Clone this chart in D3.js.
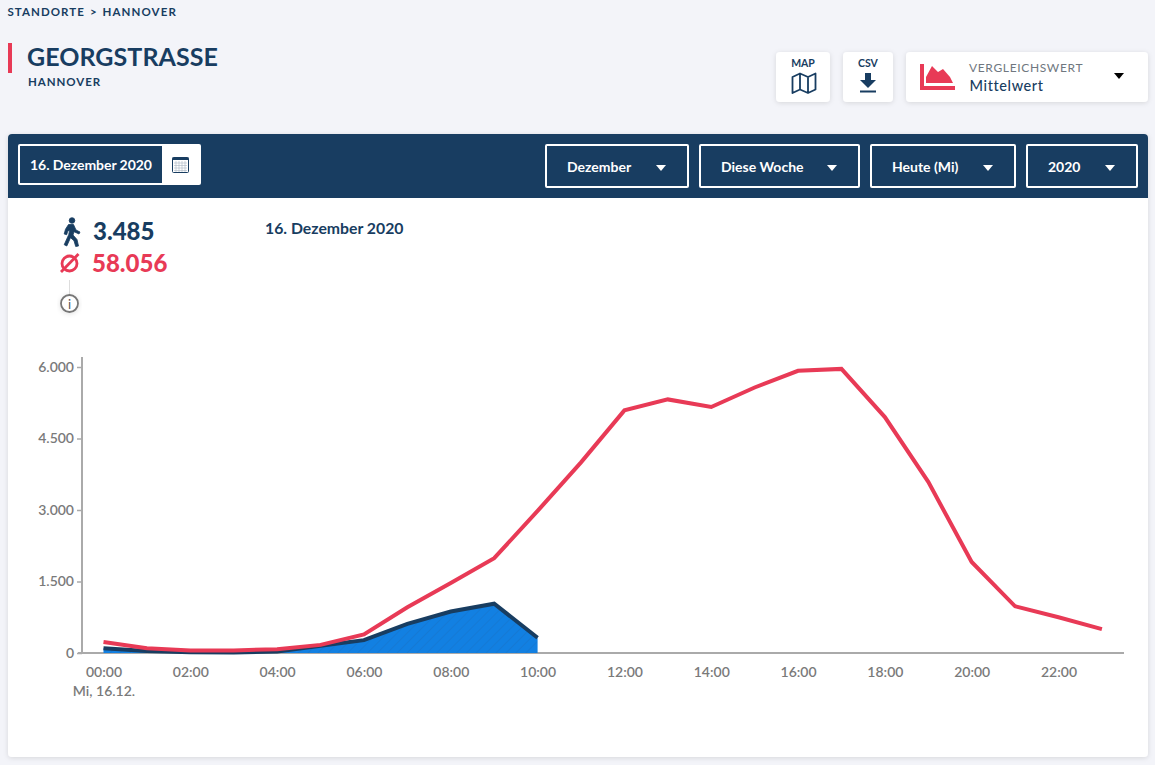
<!DOCTYPE html>
<html>
<head>
<meta charset="utf-8">
<script src="https://cdn.jsdelivr.net/npm/d3@7"></script>
<style>
  html, body { margin: 0; padding: 0; background: #f3f4f9; overflow: hidden; }
  svg { display: block; font-family: Lato, sans-serif; }
  .axis text { font-family: Lato, sans-serif; font-size: 14px; font-weight: 600; fill: #7a7a7a; }
</style>
</head>
<body>
<div id="chart"></div>
<script>
const hours = d3.range(0, 24);
const mittelwert = [230, 100, 50, 55, 80, 170, 390, 960, 1470, 1990, 2980, 4000,
  5090, 5320, 5160, 5570, 5920, 5960, 4950, 3590, 1910, 980, 750, 500];
const heute = [100, 40, 15, 10, 30, 150, 270, 610, 870, 1035, 320];
const yTicks = [0, 1500, 3000, 4500, 6000];
const xTickHours = [0, 2, 4, 6, 8, 10, 12, 14, 16, 18, 20, 22];
const dropdowns = ["Dezember", "Diese Woche", "Heute (Mi)", "2020"];

const navy = "#183d61";
const red = "#e83a56";

const svg = d3.select("#chart").append("svg")
  .attr("width", 1155)
  .attr("height", 765);

const defs = svg.append("defs");
const shadow = defs.append("filter").attr("id", "shadow")
  .attr("x", "-20%").attr("y", "-20%").attr("width", "140%").attr("height", "150%");
shadow.append("feDropShadow")
  .attr("dx", 0).attr("dy", 1).attr("stdDeviation", 2.5)
  .attr("flood-color", "#000").attr("flood-opacity", 0.12);

// hatch inside the blue area
const hatch = defs.append("pattern").attr("id", "hatch")
  .attr("width", 7).attr("height", 7)
  .attr("patternUnits", "userSpaceOnUse")
  .attr("patternTransform", "rotate(45)");
hatch.append("rect").attr("width", 7).attr("height", 7).attr("fill", "#1280e2");
hatch.append("line").attr("x1", 0).attr("y1", 0).attr("x2", 0).attr("y2", 7)
  .attr("stroke", "#1a72c4").attr("stroke-width", 1);

function label(x, y, str, size, weight, fill, anchor) {
  return svg.append("text")
    .attr("x", x).attr("y", y)
    .attr("font-size", size).attr("font-weight", weight)
    .attr("fill", fill).attr("text-anchor", anchor || "start")
    .text(str);
}

function triangle(cx, cy, w, h, fill) {
  svg.append("path")
    .attr("d", `M${cx - w / 2},${cy - h / 2}L${cx + w / 2},${cy - h / 2}L${cx},${cy + h / 2}Z`)
    .attr("fill", fill);
}

function whiteBox(x, y, w, h) {
  svg.append("rect")
    .attr("x", x).attr("y", y).attr("width", w).attr("height", h)
    .attr("rx", 4).attr("fill", "#fff").attr("filter", "url(#shadow)");
}

// page header
label(7.500, 16, "STANDORTE", 11.5, 700, navy).attr("letter-spacing", 1.05);
label(90, 16, ">", 11.5, 700, navy);
label(102.500, 16, "HANNOVER", 11.5, 700, navy).attr("letter-spacing", 1.1);
svg.append("rect").attr("x", 8).attr("y", 43).attr("width", 4).attr("height", 30).attr("fill", red);
label(27, 66, "GEORGSTRASSE", 25, 700, navy).attr("letter-spacing", 0.05);
label(28, 86, "HANNOVER", 11.5, 700, navy).attr("letter-spacing", 0.95);

// top right buttons
whiteBox(776, 52, 54, 50);
label(803, 67, "MAP", 10.5, 700, navy, "middle");
svg.append("path")
  .attr("d", "M792.5,77l7.5,-3.500l8,3.500l7.500,-3.500v16l-7.500,3.500l-8,-3.500l-7.500,3.500z M800,73.500v16 M808,77v16")
  .attr("fill", "none").attr("stroke", navy).attr("stroke-width", 1.8).attr("stroke-linejoin", "round");

whiteBox(843, 52, 50, 50);
label(868, 67, "CSV", 10.5, 700, navy, "middle");
svg.append("path")
  .attr("d", "M865,73h6v7h5l-8,8l-8,-8h5z")
  .attr("fill", navy);
svg.append("rect").attr("x", 860).attr("y", 90.500).attr("width", 16).attr("height", 2).attr("fill", navy);

whiteBox(906, 52, 242, 50);
svg.append("path")
  .attr("d", "M920,64h4v22h31v4h-35z")
  .attr("fill", red);
svg.append("path")
  .attr("d", "M926,83v-6l6,-11l6,6l5,-3l7,8l3,6z")
  .attr("fill", red);
label(969, 72, "VERGLEICHSWERT", 12, 400, "#6f7780").attr("letter-spacing", 0.65);
label(969.500, 91, "Mittelwert", 14.5, 500, navy).attr("letter-spacing", 0.6);
triangle(1119, 76, 10, 6, "#000");

// card
svg.append("rect")
  .attr("x", 8).attr("y", 134).attr("width", 1140).attr("height", 623)
  .attr("rx", 4).attr("fill", "#fff").attr("filter", "url(#shadow)");
svg.append("path")
  .attr("d", "M8,198V138a4,4 0 0 1 4,-4H1144a4,4 0 0 1 4,4V198Z")
  .attr("fill", navy);

// date picker
svg.append("rect").attr("x", 18).attr("y", 144).attr("width", 183).attr("height", 41)
  .attr("rx", 2).attr("fill", "#fff");
svg.append("rect").attr("x", 20).attr("y", 146).attr("width", 142).attr("height", 37).attr("fill", navy);
label(30, 170, "16. Dezember 2020", 14, 700, "#fff").attr("letter-spacing", -0.05);

// calendar icon
svg.append("rect").attr("x", 172.500).attr("y", 157.500).attr("width", 16).attr("height", 15)
  .attr("rx", 1).attr("fill", "#fff").attr("stroke", navy).attr("stroke-width", 1);
svg.append("rect").attr("x", 172.500).attr("y", 157.500).attr("width", 16).attr("height", 2.500).attr("fill", navy);
svg.append("path")
  .attr("d", "M174,163h13M174,165.500h13M174,168h13M174,170.500h13M176,161v11M179,161v11M182,161v11M185,161v11")
  .attr("stroke", "#a9b6c3").attr("stroke-width", 0.6).attr("fill", "none");

// dropdowns
const dropX = [[545, 689], [699, 860], [870, 1016], [1026, 1138]];
dropdowns.forEach((name, i) => {
  const [x0, x1] = dropX[i];
  svg.append("rect").attr("x", x0 + 1).attr("y", 145).attr("width", x1 - x0 - 2).attr("height", 42)
    .attr("rx", 1).attr("fill", "none").attr("stroke", "#fff").attr("stroke-width", 2);
  label(x0 + 22, 172, name, 14, 700, "#fff");
  triangle(x1 - 28, 168, 10, 6, "#fff");
});

// summary
const walker = svg.append("g").attr("transform", "translate(59.500,216)").attr("fill", navy)
  .attr("stroke", navy).attr("stroke-width", 0.8).attr("stroke-linejoin", "round");
walker.append("circle").attr("cx", 12.500).attr("cy", 4.500).attr("r", 2.800);
walker.append("path")
  .attr("d", "M9,8.500l5,0l2.500,5.500l4,2l-1,2l-5,-2.300l-1,3.300l4,4.500l1.500,6.500l-2.800,0.500l-1.700,-5.800l-3.500,-3l-3.700,8.300l-2.600,-1.300l4.500,-10l1,-4.500l-2,1l-1,3.500l-2.500,-0.700l1.300,-4.800z");
label(93, 240, "3.485", 24, 900, navy);

svg.append("circle").attr("cx", 69.500).attr("cy", 263.500).attr("r", 7.500)
  .attr("fill", "none").attr("stroke", red).attr("stroke-width", 2.800);
svg.append("line").attr("x1", 61).attr("y1", 272).attr("x2", 78.500).attr("y2", 254)
  .attr("stroke", red).attr("stroke-width", 2.800);
label(92, 272, "58.056", 24, 900, red);
label(265, 234, "16. Dezember 2020", 15.8, 700, navy);

// info icon
svg.append("line").attr("x1", 69.500).attr("y1", 280).attr("x2", 69.500).attr("y2", 295)
  .attr("stroke", "#ddd").attr("stroke-width", 1);
svg.append("circle").attr("cx", 69.500).attr("cy", 303.500).attr("r", 8.500)
  .attr("fill", "#fff").attr("stroke", "#777").attr("stroke-width", 1.800)
  .attr("filter", "url(#shadow)");
label(69.500, 308.500, "i", 13, 400, "#555", "middle");

// chart
const x = d3.scaleLinear().domain([0, 22]).range([103.500, 1058.500]);
const y = d3.scaleLinear().domain([0, 6000]).range([653, 367]);
const fmt = (d) => d3.format(",")(d).replace(",", ".");

const yAxis = svg.append("g").attr("class", "axis")
  .attr("transform", "translate(82,0)")
  .call(d3.axisLeft(y).tickValues(yTicks).tickFormat(fmt).tickSize(5).tickPadding(3));
yAxis.select(".domain").remove();
yAxis.selectAll("line").attr("stroke", "#aaa").attr("stroke-width", 1.500);
svg.append("line").attr("x1", 82).attr("y1", 357).attr("x2", 82).attr("y2", 654)
  .attr("stroke", "#aaa").attr("stroke-width", 2);

const xAxis = svg.append("g").attr("class", "axis")
  .attr("transform", "translate(0,653)")
  .call(d3.axisBottom(x).tickValues(xTickHours)
    .tickFormat((h) => String(h).padStart(2, "0") + ":00").tickSize(0).tickPadding(14));
xAxis.select(".domain").remove();
svg.append("line").attr("x1", 78).attr("y1", 653).attr("x2", 1124).attr("y2", 653)
  .attr("stroke", "#aaa").attr("stroke-width", 2);
label(104, 696, "Mi, 16.12.", 14, 600, "#7a7a7a", "middle");

const heuteData = heute.map((v, i) => [hours[i], v]);
const mittelData = mittelwert.map((v, i) => [hours[i], v]);

svg.append("path")
  .attr("d", d3.area().x((d) => x(d[0])).y0(y(0)).y1((d) => y(d[1]))(heuteData))
  .attr("fill", "url(#hatch)");
svg.append("path")
  .attr("d", d3.line().x((d) => x(d[0])).y((d) => y(d[1]))(heuteData))
  .attr("fill", "none").attr("stroke", navy).attr("stroke-width", 4);
svg.append("path")
  .attr("d", d3.line().x((d) => x(d[0])).y((d) => y(d[1]))(mittelData))
  .attr("fill", "none").attr("stroke", red).attr("stroke-width", 4);
</script>
</body>
</html>
